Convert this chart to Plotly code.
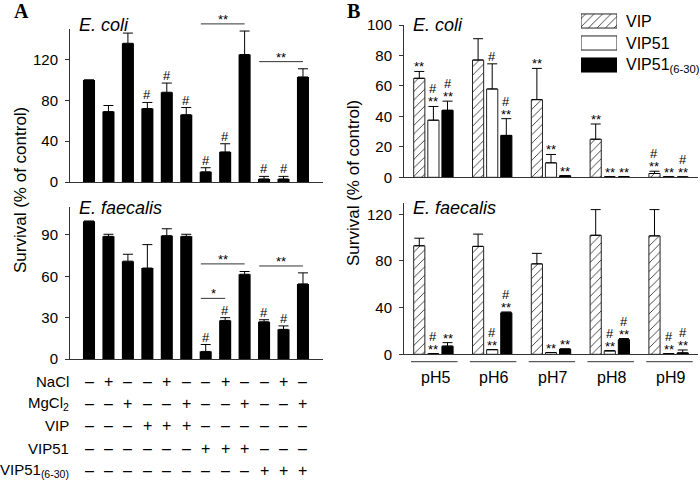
import plotly.graph_objects as go

# ---------------- data ----------------
# Panel A: 12 treatment conditions
a_rows = ["NaCl", "MgCl<sub>2</sub>", "VIP", "VIP51", "VIP51<sub>(6-30)</sub>"]
a_nacl = ["–", "+", "–", "–", "+", "–", "–", "+", "–", "–", "+", "–"]
a_mgcl2 = ["–", "–", "+", "–", "–", "+", "–", "–", "+", "–", "–", "+"]
a_vip = ["–", "–", "–", "+", "+", "+", "–", "–", "–", "–", "–", "–"]
a_vip51 = ["–", "–", "–", "–", "–", "–", "+", "+", "+", "–", "–", "–"]
a_vip51_630 = ["–", "–", "–", "–", "–", "–", "–", "–", "–", "+", "+", "+"]

a_ecoli = [100, 69, 136, 72, 88, 66, 10, 29.5, 125, 3, 3, 103]
a_ecoli_err = [0, 6, 10, 6, 9, 7, 4, 8, 23, 2.5, 2.5, 8]
a_ecoli_marks = ["", "", "", "#", "#", "#", "#", "#", "", "#", "#", ""]
a_ecoli_brackets = [(6, 8, 155, "**"), (9, 11, 118, "**")]

a_faec = [100, 89, 71, 66, 89.5, 89, 5.5, 28, 61.5, 27, 21.5, 54.5]
a_faec_err = [0, 1.5, 5, 17, 5, 1.5, 5, 2, 2, 1.5, 2.5, 8]
a_faec_marks = ["", "", "", "", "", "", "#", "#", "", "#", "#", ""]
a_faec_brackets = [(6, 8, 69, "**"), (6, 7, 44, "*"), (9, 11, 67.5, "**")]

a_ecoli_ticks = [0, 40, 80, 120]
a_faec_ticks = [0, 30, 60, 90]

# Panel B: pH series
ph_labels = ["pH5", "pH6", "pH7", "pH8", "pH9"]
b_series = ["VIP", "VIP51", "VIP51<sub>(6-30)</sub>"]

b_ecoli_vip = [65, 77, 51, 25, 2.5]
b_ecoli_vip_err = [4.5, 14, 20.5, 10, 1.5]
b_ecoli_vip51 = [37.5, 58, 9.5, 0.3, 0.3]
b_ecoli_vip51_err = [9, 16.5, 5.5, 0, 0]
b_ecoli_630 = [44, 27.5, 1, 0.3, 0.2]
b_ecoli_630_err = [6, 11, 0, 0, 0]
b_ecoli_marks = [
    ["**", "", "**", "**", "#**"],
    ["#**", "#", "**", "**", "**"],
    ["#**", "#**", "**", "**", "#**"],
]

b_faec_vip = [93, 92.5, 77.5, 102, 101.5]
b_faec_vip_err = [6.5, 10.5, 9, 22, 22.5]
b_faec_vip51 = [0.5, 4, 1.5, 3, 0.5]
b_faec_vip51_err = [0, 0, 0, 0, 0]
b_faec_630 = [7, 35.5, 4.5, 12.5, 1.2]
b_faec_630_err = [3, 0.8, 0, 1, 2.5]
b_faec_marks = [
    ["", "", "", "", ""],
    ["#**", "#**", "**", "#**", "#**"],
    ["**", "#**", "**", "#**", "#**"],
]

b_ecoli_ticks = [0, 20, 40, 60, 80, 100]
b_faec_ticks = [0, 40, 80, 120]

# ---------------- layout helpers ----------------
W, H = 700, 484
FONT = "Liberation Sans, Arial, sans-serif"


def px(x):
    return x / W


def py(y):
    return 1 - y / H


fig = go.Figure()

BLACK = "black"
AXC = "#333"


def err(arr):
    return dict(type="data", symmetric=False, array=arr, arrayminus=[0] * len(arr),
                color=BLACK, thickness=1, width=5)


# Panel A bars
n_a = len(a_ecoli)
xa = list(range(n_a))
fig.add_trace(go.Bar(x=xa, y=a_ecoli, width=0.62, marker=dict(color=BLACK, line=dict(width=0)),
                     error_y=err(a_ecoli_err), xaxis="x", yaxis="y", showlegend=False))
fig.add_trace(go.Bar(x=xa, y=a_faec, width=0.62, marker=dict(color=BLACK, line=dict(width=0)),
                     error_y=err(a_faec_err), xaxis="x2", yaxis="y2", showlegend=False))

# Panel B bars
b_offsets = [-0.24, 0.0, 0.24]
b_w = 0.19
hatch = dict(shape="/", fgcolor="#333", size=6, solidity=0.15)
styles = [
    dict(color="white", line=dict(color="#222", width=1), pattern=hatch),
    dict(color="white", line=dict(color="#222", width=1)),
    dict(color=BLACK, line=dict(color=BLACK, width=1)),
]
b_top = [(b_ecoli_vip, b_ecoli_vip_err), (b_ecoli_vip51, b_ecoli_vip51_err), (b_ecoli_630, b_ecoli_630_err)]
b_bot = [(b_faec_vip, b_faec_vip_err), (b_faec_vip51, b_faec_vip51_err), (b_faec_630, b_faec_630_err)]
ng = len(ph_labels)
for k in range(3):
    xs = [g + b_offsets[k] for g in range(ng)]
    fig.add_trace(go.Bar(x=xs, y=b_top[k][0], width=b_w, marker=styles[k], error_y=err(b_top[k][1]),
                         xaxis="x3", yaxis="y3", showlegend=False))
    fig.add_trace(go.Bar(x=xs, y=b_bot[k][0], width=b_w, marker=styles[k], error_y=err(b_bot[k][1]),
                         xaxis="x4", yaxis="y4", showlegend=False))
    # legend swatch
    fig.add_trace(go.Bar(x=[1], y=[k], base=0, orientation="h", width=0.64, marker=styles[k],
                         xaxis="x5", yaxis="y5", showlegend=False))


def yax(dom, rng, ticks):
    return dict(domain=dom, range=rng, tickvals=ticks, showline=True, linecolor=AXC, linewidth=1,
                ticks="outside", ticklen=4, tickcolor=AXC, showgrid=False, zeroline=False,
                automargin=False,
                tickfont=dict(family=FONT, size=15, color=BLACK), ticklabelstandoff=4)


def xax(dom, rng, anchor):
    return dict(domain=dom, range=rng, anchor=anchor, showline=True, linecolor=AXC, linewidth=1,
                ticks="", showticklabels=False, showgrid=False, zeroline=False, automargin=False)


a_xdom = [px(70), px(323)]
a_xrng = [-0.977, 12.03]
b_xdom = [px(404), px(698)]
b_xrng = [-0.5, 4.5]
a_top_rng = [0, 150]
a_bot_rng = [0, 110]
b_top_rng = [0, 100]
b_bot_rng = [0, 130]

fig.update_layout(
    template="none",
    width=W, height=H, margin=dict(l=0, r=0, t=0, b=0, pad=0), autosize=False,
    paper_bgcolor="white", plot_bgcolor="white", barmode="overlay", showlegend=False,
    font=dict(family=FONT, color=BLACK),
    xaxis=xax(a_xdom, a_xrng, "y"),
    yaxis=yax([py(182), py(29)], a_top_rng, a_ecoli_ticks) | dict(anchor="x"),
    xaxis2=xax(a_xdom, a_xrng, "y2"),
    yaxis2=yax([py(359), py(207.4)], a_bot_rng, a_faec_ticks) | dict(anchor="x2"),
    xaxis3=xax(b_xdom, b_xrng, "y3"),
    yaxis3=yax([py(177.3), py(25)], b_top_rng, b_ecoli_ticks) | dict(anchor="x3"),
    xaxis4=xax(b_xdom, b_xrng, "y4"),
    yaxis4=yax([py(354.3), py(202.6)], b_bot_rng, b_faec_ticks) | dict(anchor="x4"),
    xaxis5=dict(domain=[px(581), px(617)], range=[0, 1], visible=False, anchor="y5", automargin=False),
    yaxis5=dict(domain=[py(76), py(10)], range=[2.5, -0.5], visible=False, anchor="x5", automargin=False),
)

ann = []
shapes = []
MARKFONT = dict(size=13, family=FONT, color=BLACK)


def mark_annotations(xs, tops, marks, xref, yref):
    for x, t, m in zip(xs, tops, marks):
        shift = -5
        if "**" in m:
            ann.append(dict(x=x, y=t, xref=xref, yref=yref, text="**", showarrow=False,
                            yanchor="bottom", yshift=shift, font=MARKFONT))
            shift += 10
        if "#" in m:
            ann.append(dict(x=x, y=t, xref=xref, yref=yref, text="#", showarrow=False,
                            yanchor="bottom", yshift=shift + 3, font=MARKFONT))


mark_annotations(xa, [v + e for v, e in zip(a_ecoli, a_ecoli_err)], a_ecoli_marks, "x", "y")
mark_annotations(xa, [v + e for v, e in zip(a_faec, a_faec_err)], a_faec_marks, "x2", "y2")
for k in range(3):
    xs = [g + b_offsets[k] for g in range(ng)]
    mark_annotations(xs, [v + e for v, e in zip(*b_top[k])], b_ecoli_marks[k], "x3", "y3")
    mark_annotations(xs, [v + e for v, e in zip(*b_bot[k])], b_faec_marks[k], "x4", "y4")

# significance brackets in panel A
for brs, xr, yr, rng in [(a_ecoli_brackets, "x", "y", a_top_rng), (a_faec_brackets, "x2", "y2", a_bot_rng)]:
    for i0, i1, yv, lab in brs:
        yd = (yv - rng[0]) / (rng[1] - rng[0])
        shapes.append(dict(type="line", xref=xr, yref=yr + " domain", x0=i0 - 0.25, x1=i1 + 0.0,
                           y0=yd, y1=yd, line=dict(color=AXC, width=1)))
        ann.append(dict(x=(i0 + i1) / 2 - 0.12, y=yd, xref=xr, yref=yr + " domain", text=lab,
                        showarrow=False, yanchor="bottom", yshift=-5, font=MARKFONT))

# treatment table under panel A
row_y = [381, 403, 425.5, 448, 470]
rows = [a_nacl, a_mgcl2, a_vip, a_vip51, a_vip51_630]
for lab, yy, signs in zip(a_rows, row_y, rows):
    ann.append(dict(x=px(71), y=py(yy), xref="paper", yref="paper", text=lab, showarrow=False,
                    xanchor="right", yanchor="middle", font=dict(size=15, family=FONT, color=BLACK)))
    for i, s in enumerate(signs):
        ann.append(dict(x=i, y=py(yy), xref="x2", yref="paper", text=s, showarrow=False,
                        yanchor="middle", font=dict(size=16, family=FONT, color=BLACK)))

# pH group labels
for g, lab in enumerate(ph_labels):
    shapes.append(dict(type="line", xref="x4", yref="paper", x0=g - 0.38, x1=g + 0.41,
                       y0=py(361.7), y1=py(361.7), line=dict(color=AXC, width=1)))
    ann.append(dict(x=g + 0.03, y=py(377), xref="x4", yref="paper", text=lab, showarrow=False,
                    yanchor="middle", font=dict(size=16, family=FONT, color=BLACK)))

# legend labels
for k, s in enumerate(b_series):
    ann.append(dict(x=px(624), y=k, xref="paper", yref="y5", text=s, showarrow=False,
                    xanchor="left", yanchor="middle", font=dict(size=16, family=FONT, color=BLACK)))

# species titles
for x0, y0, t in [(77, 25, "E. coli"), (77, 208, "E. faecalis"), (411, 25, "E. coli"), (411, 208, "E. faecalis")]:
    ann.append(dict(x=px(x0), y=py(y0), xref="paper", yref="paper", text="<i>" + t + "</i>",
                    showarrow=False, xanchor="left", yanchor="middle",
                    font=dict(size=18, family=FONT, color=BLACK)))

# y-axis titles
for x0, y0 in [(20, 190), (353, 183)]:
    ann.append(dict(x=px(x0), y=py(y0), xref="paper", yref="paper", text="Survival (% of control)",
                    textangle=-90, showarrow=False, xanchor="center", yanchor="middle",
                    font=dict(size=17, family=FONT, color=BLACK)))

# panel letters
for x0, y0, t in [(21, 11, "A"), (354, 11, "B")]:
    ann.append(dict(x=px(x0), y=py(y0), xref="paper", yref="paper", text="<b>" + t + "</b>",
                    showarrow=False, xanchor="center", yanchor="middle",
                    font=dict(size=20, family="Liberation Serif, Times New Roman, serif", color=BLACK)))

fig.update_layout(annotations=ann, shapes=shapes)
fig.write_html("out.html", config={"displayModeBar": False},
               post_script="document.body.style.margin='0';")
